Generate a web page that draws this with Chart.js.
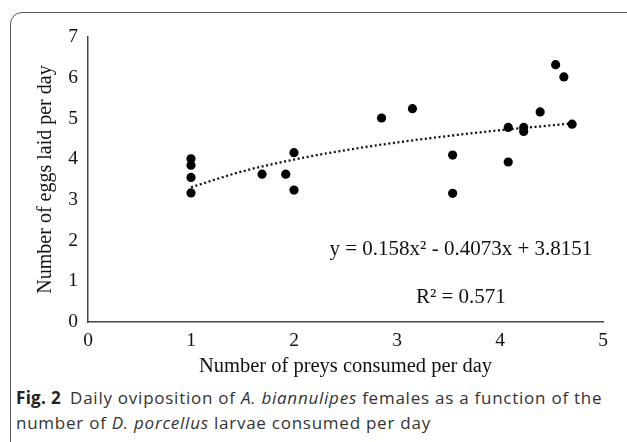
<!DOCTYPE html>
<html>
<head>
<meta charset="utf-8">
<script src="https://cdn.jsdelivr.net/npm/chart.js@4"></script>
<style>
  html, body { margin: 0; padding: 0; background: #fff; }
  body { width: 627px; height: 442px; position: relative; overflow: hidden; }
  #frame {
    position: absolute; left: 10px; top: 12px; width: 700px; height: 500px;
    border: 1.5px solid #555; border-radius: 12px; box-sizing: border-box;
  }
  #wrap { position: absolute; left: 0; top: 0; width: 627px; height: 380px; }
  #caption {
    position: absolute; left: 16px; top: 385px; width: 605px;
    font-family: "Open Sans", sans-serif; font-size: 17px; line-height: 25px;
    color: #333; letter-spacing: 0.75px; white-space: nowrap;
  }
  #caption b { font-weight: 700; margin-right: 4px; color: #222; letter-spacing: 0.3px; }
</style>
</head>
<body>
<div id="frame"></div>
<div id="wrap"><canvas id="chart"></canvas></div>
<div id="caption"><b>Fig. 2</b> Daily oviposition of <i>A. biannulipes</i> females as a function of the<br>number of <i>D. porcellus</i> larvae consumed per day</div>
<script>
'use strict';

// preys consumed per day (x) and eggs laid per day (y)
const preys = [1, 1, 1, 1, 1.69, 1.92, 2.0, 2.0, 2.85, 3.15, 3.54, 3.54, 4.08, 4.08, 4.23, 4.23, 4.39, 4.54, 4.62, 4.70];
const eggs  = [4.01, 3.85, 3.55, 3.17, 3.63, 3.63, 4.16, 3.24, 5.01, 5.24, 4.10, 3.16, 4.78, 3.93, 4.78, 4.68, 5.16, 6.32, 6.02, 4.86];

// dotted trend line
const trendX = [1, 1.5, 2, 2.5, 3, 3.5, 4, 4.5, 4.7];
const trendY = [3.31, 3.70, 3.99, 4.22, 4.41, 4.57, 4.71, 4.83, 4.88];

const xTicks = [0, 1, 2, 3, 4, 5];
const yTicks = [0, 1, 2, 3, 4, 5, 6, 7];

const equationText = 'y = 0.158x\u00b2 - 0.4073x + 3.8151';
const r2Text = 'R\u00b2 = 0.571';

const serif = '"Liberation Serif", "Times New Roman", serif';

// writes the fit equation and R² inside the plot
const fitLabels = {
  id: 'fitLabels',
  afterDatasetsDraw(chart) {
    const {ctx, scales: {x, y}} = chart;
    ctx.save();
    ctx.fillStyle = '#111';
    ctx.font = '21px ' + serif;
    ctx.textAlign = 'center';
    ctx.textBaseline = 'middle';
    ctx.fillText(equationText, x.getPixelForValue(3.62), y.getPixelForValue(1.79));
    ctx.fillText(r2Text, x.getPixelForValue(3.62), y.getPixelForValue(0.61));
    ctx.restore();
  }
};

new Chart(document.getElementById('chart'), {
  type: 'scatter',
  data: {
    datasets: [{
      label: 'Trend',
      type: 'line',
      data: trendX.map((v, i) => ({x: v, y: trendY[i]})),
      borderColor: '#111',
      borderWidth: 2.3,
      borderDash: [2, 2.6],
      pointRadius: 0,
      cubicInterpolationMode: 'monotone',
      fill: false,
      order: 2
    }, {
      label: 'Eggs',
      data: preys.map((v, i) => ({x: v, y: eggs[i]})),
      backgroundColor: '#000',
      borderColor: '#000',
      pointRadius: 4.6,
      pointBorderWidth: 0,
      order: 1
    }]
  },
  options: {
    responsive: true,
    maintainAspectRatio: false,
    animation: false,
    layout: { padding: { left: 0, top: 37, right: 24, bottom: 1 } },
    plugins: { legend: { display: false }, tooltip: { enabled: false } },
    scales: {
      x: {
        type: 'linear', min: 0, max: 5,
        afterBuildTicks: s => { s.ticks = xTicks.map(v => ({value: v})); },
        afterFit: s => { s.height = 57; },
        grid: { display: false, drawTicks: false },
        border: { color: '#444', width: 1.5 },
        ticks: { color: '#111', padding: 7, font: { family: serif, size: 19.5 } },
        title: { display: true, text: 'Number of preys consumed per day', color: '#111',
                 padding: { top: 0, bottom: 0 }, font: { family: serif, size: 20.5 } }
      },
      y: {
        type: 'linear', min: 0, max: 7,
        afterBuildTicks: s => { s.ticks = yTicks.map(v => ({value: v})); },
        afterFit: s => { s.width = 88; },
        grid: { display: false, drawTicks: false },
        border: { color: '#444', width: 1.5 },
        ticks: { color: '#111', padding: 10, font: { family: serif, size: 19.5 } },
        title: { display: true, text: 'Number of eggs laid per day', color: '#111',
                 padding: { top: 34, bottom: 0 }, font: { family: serif, size: 20 } }
      }
    }
  },
  plugins: [fitLabels]
});
</script>
</body>
</html>
